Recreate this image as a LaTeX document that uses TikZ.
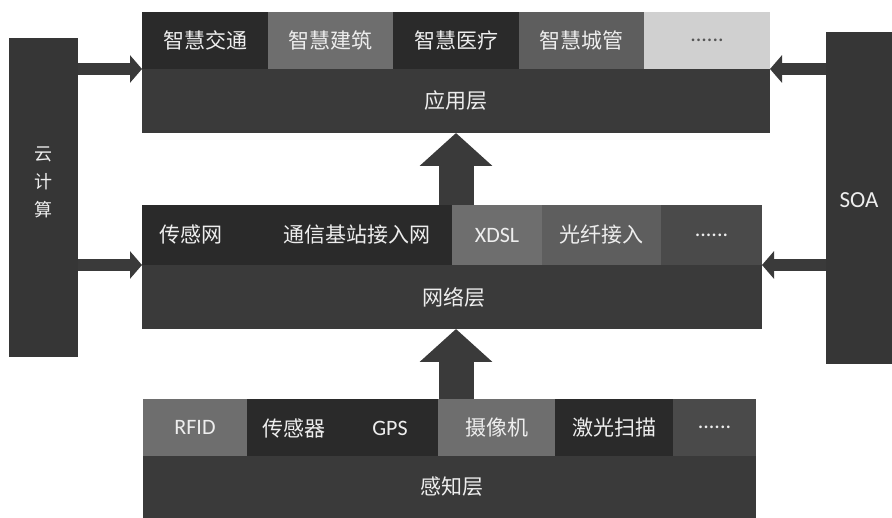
\documentclass[tikz,border=0pt]{standalone}
\usepackage{fontspec}
\setmainfont{Carlito}
\newfontfamily\cjk{Noto Sans CJK SC}
\usetikzlibrary{arrows.meta}
\definecolor{barc}{HTML}{3A3A3A}
\definecolor{dk}{HTML}{2A2A2A}
\definecolor{md}{HTML}{6E6E6E}
\definecolor{mdb}{HTML}{5E5E5E}
\definecolor{mdc}{HTML}{4A4A4A}
\definecolor{lt}{HTML}{D0D0D0}
\definecolor{sidec}{HTML}{363636}
\definecolor{txtc}{HTML}{EEEEEE}
\definecolor{dotc}{HTML}{555555}
\tikzset{
  box/.style={draw=none, inner sep=0pt, outer sep=0pt, anchor=north west},
  cn/.style={font=\cjk\fontsize{21}{24}\selectfont, text=txtc},
  ln/.style={font=\fontsize{22}{24}\selectfont, text=txtc},
  dots/.style={font=\fontsize{22}{24}\selectfont, text=txtc},
  harr/.style={draw=barc, line width=12pt, -{Triangle[length=12pt,width=27pt]}},
  varr/.style={draw=barc, line width=35pt, -{Triangle[length=33pt,width=71pt]}}
}
\begin{document}
\begin{tikzpicture}[x=1pt,y=-1pt]
\useasboundingbox[fill=white] (0,0) rectangle (892,518);
% side boxes
\node[box, fill=sidec, minimum width=69pt, minimum height=319pt] (cloud) at (9,38) {};
\node[cn, font=\cjk\fontsize{18}{28}\selectfont, align=center] (cloudt) at (43.5,182) {云\\计\\算};
\node[box, fill=sidec, minimum width=66pt, minimum height=332pt] (soa) at (826,32) {};
\node[ln, font=\fontsize{23}{26}\selectfont] (soat) at (859,200) {SOA};
% application layer
\node[box, fill=barc, minimum width=628pt, minimum height=121pt] (app) at (142,12) {};
\node[box, cn, fill=dk, minimum width=126pt, minimum height=57pt] (a1) at (142,12) {智慧交通};
\node[box, cn, fill=md, minimum width=125pt, minimum height=57pt] (a2) at (268,12) {智慧建筑};
\node[box, cn, fill=dk, minimum width=126pt, minimum height=57pt] (a3) at (393,12) {智慧医疗};
\node[box, cn, fill=mdb, minimum width=125pt, minimum height=57pt] (a4) at (519,12) {智慧城管};
\node[box, dots, text=dotc, fill=lt, minimum width=126pt, minimum height=57pt] (a5) at (644,12) {......};
\node[cn] (appt) at (456,101) {应用层};
% network layer
\node[box, fill=barc, minimum width=620pt, minimum height=124pt] (net) at (142,205) {};
\node[box, fill=dk, minimum width=310pt, minimum height=60pt] (b1) at (142,205) {};
\node[cn] (b1t) at (191,235) {传感网};
\node[cn] (b2t) at (357,235) {通信基站接入网};
\node[box, ln, fill=md, minimum width=90pt, minimum height=60pt] (b3) at (452,205) {XDSL};
\node[box, cn, fill=mdb, minimum width=119pt, minimum height=60pt] (b4) at (542,205) {光纤接入};
\node[box, dots, fill=mdc, minimum width=101pt, minimum height=60pt] (b5) at (661,205) {......};
\node[cn] (nett) at (454,297) {网络层};
% perception layer
\node[box, fill=barc, minimum width=613pt, minimum height=119pt] (sense) at (143,399) {};
\node[box, ln, fill=md, minimum width=104pt, minimum height=57pt] (c1) at (143,399) {RFID};
\node[box, fill=dk, minimum width=191pt, minimum height=57pt] (c2) at (247,399) {};
\node[cn] (c2t) at (294,428) {传感器};
\node[ln] (c2g) at (390,428) {GPS};
\node[box, cn, fill=md, minimum width=117pt, minimum height=57pt] (c3) at (438,399) {摄像机};
\node[box, cn, fill=dk, minimum width=118pt, minimum height=57pt] (c4) at (555,399) {激光扫描};
\node[box, dots, fill=mdc, minimum width=83pt, minimum height=57pt] (c5) at (673,399) {......};
\node[cn] (senset) at (452,487) {感知层};
% arrows
\draw[harr] (cloud.east |- a1.south) -- (app.west |- a1.south);
\draw[harr] (cloud.east |- b1.south) -- (net.west |- b1.south);
\draw[harr] (soa.west |- a5.south) -- (app.east |- a5.south);
\draw[harr] (soa.west |- b5.south) -- (net.east |- b5.south);
\draw[varr] (net.north -| app.south) -- (app.south);
\draw[varr] (sense.north -| app.south) -- (net.south -| app.south);
\end{tikzpicture}
\end{document}
